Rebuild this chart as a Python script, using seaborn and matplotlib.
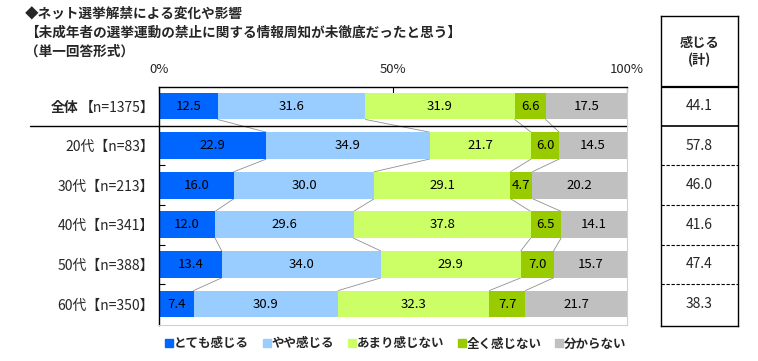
import numpy as np
import pandas as pd
import matplotlib
matplotlib.use("Agg")
import matplotlib.pyplot as plt
from matplotlib.lines import Line2D
import seaborn as sns

# ---- data ----
categories = ["全体【n=1375】", "20代【n=83】", "30代【n=213】", "40代【n=341】", "50代【n=388】", "60代【n=350】"]
series_names = ["とても感じる", "やや感じる", "あまり感じない", "全く感じない", "分からない"]
very = [12.5, 22.9, 16.0, 12.0, 13.4, 7.4]
somewhat = [31.6, 34.9, 30.0, 29.6, 34.0, 30.9]
not_much = [31.9, 21.7, 29.1, 37.8, 29.9, 32.3]
not_at_all = [6.6, 6.0, 4.7, 6.5, 7.0, 7.7]
unknown = [17.5, 14.5, 20.2, 14.1, 15.7, 21.7]
feel_total = [44.1, 57.8, 46.0, 41.6, 47.4, 38.3]
xtick_vals = [0, 50, 100]
xtick_labels = ["0%", "50%", "100%"]
title_lines = ["◆ネット選挙解禁による変化や影響",
               "【未成年者の選挙運動の禁止に関する情報周知が未徹底だったと思う】",
               "（単一回答形式）"]
table_header = "感じる\n(計)"

colors = ["#0066FF", "#99CCFF", "#CCFF66", "#99CC00", "#C0C0C0"]

sns.set_style("white")
plt.rcParams['font.family'] = ['Noto Sans CJK JP', 'DejaVu Sans']

series = [very, somewhat, not_much, not_at_all, unknown]
vals = np.array(series)            # shape (5, 6)
cum = np.cumsum(vals, axis=0)      # cumulative ends
starts = cum - vals

df = pd.DataFrame({"category": categories})
for k in range(len(series)):
    df[f"cum{k}"] = cum[k]

W, H = 758, 361
fig = plt.figure(figsize=(W / 100, H / 100), dpi=100)

ax_left, ax_right = 159 / W, 627 / W
ax_top, ax_bot = 87 / H, 325 / H
ax = fig.add_axes([ax_left, 1 - ax_bot, ax_right - ax_left, ax_bot - ax_top])

bar_w = 0.68
for k in reversed(range(len(series))):
    sns.barplot(data=df, x=f"cum{k}", y="category", orient="h", color=colors[k],
                saturation=1, width=bar_w, errorbar=None, linewidth=0, ax=ax)

ylim = (5.53, -0.48)
ax.set_ylim(*ylim)
ax.set_xlim(0, 100)
ax.set_xlabel("")
ax.set_ylabel("")

# value labels
for k in range(len(series)):
    for i in range(len(categories)):
        ax.text(starts[k, i] + vals[k, i] / 2, i, f"{vals[k, i]:.1f}", ha="center", va="center",
                fontsize=9.5, color="#000000")

# connecting lines between bars
for i in range(len(categories) - 1):
    for k in range(len(series) - 1):
        ax.plot([cum[k, i], cum[k, i + 1]], [i + bar_w / 2, i + 1 - bar_w / 2],
                color="#909090", lw=0.6, zorder=0.5)

# divider line under 全体
ax.plot([-0.276, 1.0], [0.5, 0.5], color="black", lw=1.0,
        transform=ax.get_yaxis_transform(), clip_on=False)

# axes styling
ax.xaxis.tick_top()
ax.set_xticks(xtick_vals)
ax.set_xticklabels(xtick_labels, fontsize=9.5)
ax.tick_params(axis="x", direction="in", length=4, width=0.8, pad=8, color="black", top=True, bottom=False)
ax.set_yticks(range(len(categories)))
ax.set_yticks([0.5 + j for j in range(1, len(categories) - 1)], minor=True)
ax.tick_params(axis="y", which="major", length=0, pad=3.5)
ax.tick_params(axis="y", which="minor", direction="in", length=4, width=0.8, color="black", left=True)
for s in ["top", "left"]:
    ax.spines[s].set_color("black")
    ax.spines[s].set_linewidth(1.0)
    ax.spines[s].set_visible(True)
for s in ["bottom", "right"]:
    ax.spines[s].set_color("#d0d0d0")
    ax.spines[s].set_linewidth(0.8)
    ax.spines[s].set_visible(True)
ax.grid(False)

# first label: bold "全体" followed by normal part
full0 = categories[0]
head, tail = full0[:2], full0[2:]
ax.set_yticklabels([tail] + categories[1:], fontsize=10)
fig.canvas.draw()
lbl0 = ax.get_yticklabels()[0]
ax.annotate(head, xy=(0, 0.5), xycoords=lbl0, xytext=(-0.5, 0), textcoords="offset points",
            ha="right", va="center", fontsize=10, fontweight="bold", annotation_clip=False)

# titles
ty = [14, 33, 52]
for line, y in zip(title_lines, ty):
    fig.text(25 / W, 1 - y / H, line, ha="left", va="center", fontsize=9.8, fontweight="bold")

# right table
t_left, t_right = 661 / W, 738 / W
t_top, t_bot = 16 / H, 326 / H
tax = fig.add_axes([t_left, 1 - t_bot, t_right - t_left, t_bot - t_top])
tax.set_xlim(0, 1)
tax.set_ylim(5.555, -0.48 - 71 / 39.6)
tax.set_xticks([])
tax.set_yticks([])
for s in tax.spines.values():
    s.set_color("black")
    s.set_linewidth(1.0)
    s.set_visible(True)
tax.axhline(-0.48, color="black", lw=1.6)
tax.axhline(0.5, color="black", lw=1.2)
for j in range(1, len(categories) - 1):
    tax.axhline(j + 0.5, color="black", lw=0.8, ls=(0, (3, 1.5)))
for i, v in enumerate(feel_total):
    tax.text(0.5, i, f"{v:.1f}", ha="center", va="center", fontsize=10)
tax.text(0.5, (-0.48 + (-0.48 - 71 / 39.6)) / 2, table_header, ha="center", va="center",
         fontsize=9.5, fontweight="bold", linespacing=1.3)

# legend
handles = [Line2D([0], [0], marker="s", linestyle="none", markersize=5.5,
                  markerfacecolor=c, markeredgecolor=c) for c in colors]
fig.legend(handles, series_names, loc="center", bbox_to_anchor=(396 / W, 1 - 344 / H),
           ncol=5, frameon=False, handlelength=0.6, handletextpad=0.1,
           columnspacing=1.1, prop={"weight": "bold", "size": 9})

fig.savefig("out.png", dpi=100)
